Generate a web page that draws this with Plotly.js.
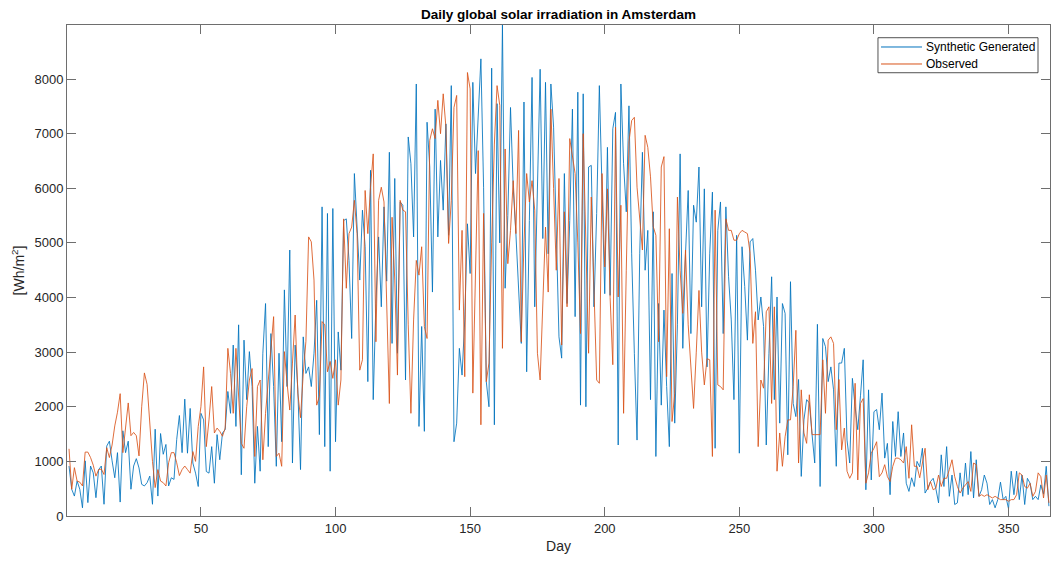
<!DOCTYPE html>
<html>
<head>
<meta charset="utf-8">
<script src="https://cdn.plot.ly/plotly-3.0.1.min.js"></script>
<style>
  html, body { margin: 0; padding: 0; background: #ffffff; }
  #chart { width: 1051px; height: 565px; }
</style>
</head>
<body>
<div id="chart"></div>
<script>
// Day numbers 1..365 (categories of the x axis)
const dayCount = 365;
const days = Array.from({length: dayCount}, (_, i) => i + 1);

// Synthetic generated daily irradiation [Wh/m2]
const synthetic = [
  915, 490, 365, 640, 490, 150, 1010, 245, 915, 790,
  335, 850, 915, 215, 1280, 1370, 1010, 700, 1160, 255,
  1560, 1160, 1370, 490, 915, 1050, 880, 580, 550, 610,
  730, 215, 1590, 365, 1510, 1130, 1310, 550, 700, 670,
  1400, 1840, 1160, 2140, 1150, 1970, 970, 785, 540, 1880,
  1760, 815, 785, 1270, 600, 1490, 1030, 1520, 1580, 2280,
  1880, 3130, 1640, 3500, 755, 3220, 2130, 3010, 2370, 600,
  1640, 820, 2980, 3890, 1270, 3340, 2370, 910, 2980, 1360,
  4140, 2370, 4870, 970, 3130, 2310, 850, 3280, 2610, 2730,
  2370, 2980, 3950, 1490, 5660, 1270, 5540, 820, 5630, 1360,
  3370, 2670, 5410, 5440, 4680, 3250, 6270, 5410, 4320, 5600,
  4930, 2460, 6330, 2130, 3890, 5110, 3830, 5660, 4300, 6660,
  3160, 6180, 2980, 5750, 5690, 2490, 6940, 6450, 5110, 7910,
  1640, 3470, 1550, 7210, 6390, 4100, 7450, 5110, 6510, 5600,
  7180, 5140, 7880, 1360, 1700, 3070, 2580, 3590, 5350, 4440,
  7940, 6270, 7240, 8370, 6020, 2460, 2000, 8200, 1670, 7550,
  5000, 8990, 4170, 5500, 7480, 6020, 5170, 4070, 3160, 7580,
  2640, 5410, 8030, 3830, 6020, 8180, 5080, 7940, 4800, 7910,
  7120, 5400, 3280, 2890, 6270, 3890, 5410, 7450, 3650, 7760,
  2030, 7730, 2000, 6390, 6420, 3830, 5540, 7880, 6210, 4070,
  6750, 4040, 7090, 7390, 1300, 7910, 6450, 5570, 7510, 4800,
  2980, 1390, 4800, 6660, 4500, 5230, 2130, 5570, 1090, 3890,
  2030, 3770, 2370, 1270, 4440, 1700, 3500, 6630, 3070, 4800,
  5960, 3340, 5690, 5380, 6390, 3830, 5990, 2730, 4800, 5930,
  1240, 5230, 5750, 3340, 5660, 4380, 3590, 2130, 5140, 1150,
  4930, 4200, 3220, 5020, 5080, 4500, 3590, 4010, 3470, 1300,
  2980, 4380, 2130, 4010, 1700, 3890, 3710, 1120, 4290, 2060,
  1820, 2500, 725, 1760, 2130, 2070, 1500, 970, 3510, 540,
  3250, 3100, 2460, 2730, 2310, 910, 2800, 2800, 3070, 1390,
  970, 2520, 2000, 1580, 2200, 2860, 480, 2310, 660, 1910,
  1950, 1580, 2250, 1060, 1330, 390, 1730, 1090, 1910, 1090,
  1520, 600, 450, 700, 540, 1000, 900, 1240, 420, 510,
  630, 690, 500, 240, 1120, 540, 1270, 360, 750, 210,
  240, 790, 360, 970, 390, 1180, 330, 1030, 360, 480,
  750, 600, 210, 300, 150, 300, 620, 300, 360, 130,
  820, 390, 820, 300, 750, 210, 690, 600, 300, 360,
  300, 570, 400, 910, 180
];

// Observed daily irradiation [Wh/m2]
const observed = [
  1230, 490, 885, 640, 620, 550, 1170, 1170, 1070, 930,
  730, 850, 860, 760, 1250, 1070, 1300, 1650, 1900, 2240,
  1160, 1600, 2070, 1470, 1530, 1470, 1100, 2000, 2620, 2410,
  1710, 1000, 520, 850, 640, 610, 550, 975, 1160, 1160,
  975, 740, 850, 915, 850, 785, 1180, 1000, 1640, 2000,
  2730, 1270, 1760, 2370, 1520, 1610, 1550, 1460, 1610, 3070,
  2610, 1880, 3070, 2130, 1330, 1240, 2000, 2490, 2700, 1090,
  2370, 2490, 1030, 1880, 2490, 3000, 3650, 1090, 1150, 910,
  3010, 2430, 1940, 2800, 3680, 2250, 1800, 2600, 3200, 5110,
  5020, 4320, 2030, 2190, 3560, 3500, 2640, 2830, 2520, 2860,
  2030, 2490, 5440, 4170, 5170, 5290, 5780, 5170, 2670, 2860,
  5960, 5170, 6020, 6630, 3190, 5780, 6020, 5750, 4070, 2060,
  5470, 4320, 2580, 5780, 5600, 5570, 3500, 1880, 3590, 4680,
  4410, 4930, 3470, 3250, 6880, 7090, 6910, 7610, 7000, 7730,
  7120, 4990, 5780, 7480, 7700, 3770, 5230, 2550, 8120, 7820,
  2250, 4800, 6690, 1670, 5540, 2460, 2800, 5000, 6810, 7880,
  7520, 3070, 6720, 4620, 5230, 6140, 5170, 7060, 3190, 5000,
  6270, 5750, 6140, 5600, 2980, 2490, 4000, 5290, 4100, 7450,
  6000, 4500, 6180, 3130, 5570, 3830, 6910, 6600, 6270, 5000,
  3340, 7000, 5000, 2980, 5840, 4000, 2490, 2430, 6270, 4560,
  5990, 4000, 2770, 7120, 4010, 5690, 1880, 4500, 6850, 7240,
  7300, 6020, 5500, 4870, 6970, 6750, 6210, 5300, 5140, 3190,
  6390, 6580, 2550, 5260, 1730, 2240, 5840, 4500, 3710, 4870,
  3500, 2800, 1970, 3000, 4130, 3000, 2400, 2880, 2860, 1090,
  5600, 2400, 2370, 2310, 5440, 5230, 5230, 5050, 5050, 5170,
  5230, 5200, 5170, 4810, 3160, 3740, 1270, 2490, 2340, 3740,
  3830, 2060, 3830, 820, 1520, 910, 1450, 1760, 1760, 2370,
  3400, 970, 2310, 1520, 1330, 2220, 1490, 1490, 1490, 1490,
  2860, 1880, 3220, 3280, 3160, 1580, 2500, 1210, 1610, 820,
  690, 790, 2430, 660, 2060, 2150, 600, 790, 1150, 1240,
  1360, 720, 790, 940, 720, 630, 910, 1060, 1060, 1030,
  970, 1270, 690, 1670, 910, 910, 700, 1000, 1240, 480,
  630, 480, 510, 750, 540, 690, 690, 850, 1030, 720,
  540, 420, 510, 570, 630, 450, 970, 940, 360, 390,
  360, 390, 360, 330, 360, 330, 300, 300, 300, 270,
  300, 300, 390, 790, 750, 540, 510, 600, 360, 450,
  790, 720, 330, 750, 240
];

const seriesNames = ['Synthetic Generated', 'Observed'];
const seriesColors = ['#0072BD', '#D95319'];
const xTicks = [50, 100, 150, 200, 250, 300, 350];
const yTicks = [0, 1000, 2000, 3000, 4000, 5000, 6000, 7000, 8000];

const FONT = '"Liberation Sans", Arial, Helvetica, sans-serif';
const TEXT = '#262626';
const AXIS = '#6e6e6e';

const traces = [
  {
    x: days, y: synthetic, type: 'scatter', mode: 'lines',
    name: seriesNames[0], showlegend: false,
    line: {color: seriesColors[0], width: 0.85}
  },
  {
    x: days, y: observed, type: 'scatter', mode: 'lines',
    name: seriesNames[1], showlegend: false,
    line: {color: seriesColors[1], width: 0.85}
  }
];

// Legend box drawn in paper coordinates (MATLAB-style compact legend)
const L = {x0: 0.825, x1: 0.9878, y0: 0.9028, y1: 0.9741,
           lineX0: 0.8281, lineX1: 0.8698, textX: 0.8718,
           rowY: [0.9552, 0.9206]};

const shapes = [
  {type: 'rect', xref: 'paper', yref: 'paper', x0: L.x0, x1: L.x1, y0: L.y0, y1: L.y1,
   line: {color: '#262626', width: 0.8}, fillcolor: '#ffffff', layer: 'above'}
];
const annotations = [];
seriesNames.forEach((nm, i) => {
  shapes.push({type: 'line', xref: 'paper', yref: 'paper',
    x0: L.lineX0, x1: L.lineX1, y0: L.rowY[i], y1: L.rowY[i],
    line: {color: seriesColors[i], width: 1}, layer: 'above'});
  annotations.push({xref: 'paper', yref: 'paper', x: L.textX, y: L.rowY[i],
    xanchor: 'left', yanchor: 'middle', showarrow: false, text: nm,
    font: {family: FONT, size: 12, color: '#000000'}});
});

const axisCommon = {
  showgrid: false, zeroline: false,
  showline: true, linecolor: AXIS, linewidth: 1, mirror: 'ticks',
  ticks: 'inside', ticklen: 9, tickwidth: 1, tickcolor: AXIS,
  tickfont: {family: FONT, size: 13, color: TEXT},
  tickmode: 'array'
};

const layout = {
  width: 1051, height: 565,
  paper_bgcolor: '#ffffff', plot_bgcolor: '#ffffff',
  margin: {l: 67, r: 1, t: 25, b: 49},
  font: {family: FONT, color: TEXT},
  title: {
    text: 'Daily global solar irradiation in Amsterdam',
    font: {family: FONT, size: 13.5, color: '#000000', weight: 'bold'},
    xref: 'paper', x: 0.5, xanchor: 'center',
    yref: 'container', y: 1 - 14 / 565, yanchor: 'middle'
  },
  xaxis: Object.assign({}, axisCommon, {
    range: [0.25, 365.4],
    tickvals: xTicks,
    ticktext: xTicks.map(String),
    title: {text: 'Day', font: {family: FONT, size: 14, color: TEXT}, standoff: 6}
  }),
  yaxis: Object.assign({}, axisCommon, {
    range: [0, 8990],
    tickvals: yTicks,
    ticktext: yTicks.map(String),
    title: {text: '[Wh/m<sup>2</sup>]', font: {family: FONT, size: 14, color: TEXT}, standoff: 6}
  }),
  showlegend: false,
  shapes: shapes,
  annotations: annotations
};

Plotly.newPlot('chart', traces, layout, {displayModeBar: false, staticPlot: true});
</script>
</body>
</html>
